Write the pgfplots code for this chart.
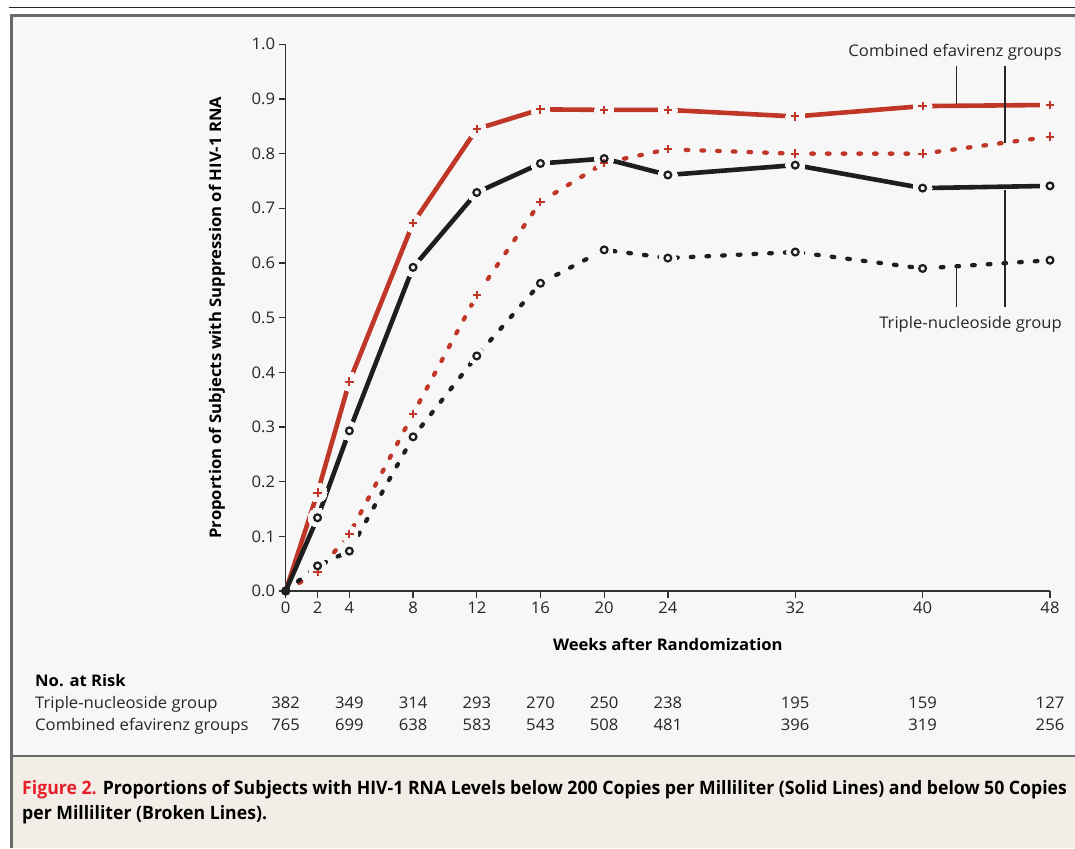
\documentclass[border=0pt]{standalone}
\usepackage{pgfplots}
\usepackage{pgfplotstable}
\pgfplotsset{compat=1.18}
\usepackage{fontspec}
\setmainfont[FakeStretch=1.04]{Open Sans}
\newfontfamily\capfont[FakeStretch=0.955]{Open Sans Bold}
\definecolor{effred}{RGB}{192,55,40}
\definecolor{trik}{RGB}{30,30,30}
\definecolor{figred}{RGB}{232,30,40}
\definecolor{bggray}{RGB}{247,247,247}
\definecolor{capbg}{RGB}{242,237,230}
\definecolor{bordergray}{RGB}{105,105,105}
\definecolor{axgray}{RGB}{50,50,50}

\pgfplotstableread{
w effA effB triA triB
0 0.000 0.000 0.000 0.000
2 0.180 0.035 0.134 0.046
4 0.383 0.104 0.293 0.073
8 0.673 0.324 0.592 0.282
12 0.845 0.541 0.729 0.430
16 0.881 0.712 0.782 0.563
20 0.880 0.783 0.791 0.624
24 0.880 0.808 0.761 0.609
32 0.868 0.800 0.779 0.620
40 0.887 0.800 0.737 0.590
48 0.889 0.831 0.741 0.605
}\datatable

\newcommand{\fs}{\fontsize{16}{19}\selectfont}

\begin{document}
\begin{tikzpicture}
\begin{scope}[x=1pt,y=-1pt]
\fill[white] (0,0) rectangle (1075,848);
\fill[bggray] (11,15) rectangle (1075,756);
\fill[capbg] (11,756) rectangle (1075,848);
\draw[line width=1.4pt, black!85] (9,7.3) -- (1075,7.3);
\draw[line width=2.6pt, bordergray] (1075,15.5) -- (11.5,15.5) -- (11.5,848);
\draw[line width=2.4pt, bordergray] (11.5,756) -- (1075,756);
\end{scope}

\begin{axis}[
  at={(285.7pt,-591pt)}, anchor=south west,
  scale only axis, width=764.3pt, height=546.7pt,
  xmin=0, xmax=48, ymin=0, ymax=1,
  axis lines*=left,
  axis line style={axgray, line width=1.3pt},
  every tick/.style={axgray, line width=1.3pt},
  tick align=outside, major tick length=7pt,
  xtick={0,2,4,8,12,16,20,24,32,40,48},
  ytick={0,0.1,...,1.0},
  yticklabel style={/pgf/number format/fixed, /pgf/number format/fixed zerofill, /pgf/number format/precision=1},
  /pgf/number format/assume math mode=true,
  tick label style={font=\fs, text=black!85},
  xticklabel style={yshift=-0.5pt},
  xlabel={\bfseries Weeks after Randomization},
  ylabel={\bfseries Proportion of Subjects with Suppression of HIV-1 RNA},
  every axis x label/.style={at={(axis description cs:0.5,0)}, anchor=center, yshift=-53pt, font=\fs},
  every axis y label/.style={at={(axis description cs:0,0.5)}, anchor=center, rotate=90, yshift=68.7pt, font=\fs},
  clip=false,
]
% --- lines ---
% combined efavirenz, <50 copies (broken)
\addplot[effred, line width=4.3pt, line cap=round, dash pattern=on 2.6pt off 13.1pt] table[x=w,y=effB] {\datatable};
% triple nucleoside, <50 copies (broken)
\addplot[trik, line width=4.3pt, line cap=round, dash pattern=on 2.6pt off 13.1pt] table[x=w,y=triB] {\datatable};
% combined efavirenz, <200 copies (solid)
\addplot[effred, line width=4.6pt, line cap=round] table[x=w,y=effA] {\datatable};
% triple nucleoside, <200 copies (solid)
\addplot[trik, line width=4.6pt, line cap=round] table[x=w,y=triA] {\datatable};
% --- gaps around the markers ---
\addplot[only marks, mark=*, mark size=8.5pt, mark options={draw=bggray, line width=0pt, fill=bggray}, skip coords between index={0}{1}] table[x=w,y=effB] {\datatable};
\addplot[only marks, mark=*, mark size=8.5pt, mark options={draw=bggray, line width=0pt, fill=bggray}, skip coords between index={0}{1}] table[x=w,y=triB] {\datatable};
\addplot[only marks, mark=*, mark size=9.5pt, mark options={draw=bggray, line width=0pt, fill=bggray}, skip coords between index={0}{1}] table[x=w,y=effA] {\datatable};
\addplot[only marks, mark=*, mark size=9.5pt, mark options={draw=bggray, line width=0pt, fill=bggray}, skip coords between index={0}{1}] table[x=w,y=triA] {\datatable};
% --- markers ---
\addplot[only marks, mark=+, mark size=4.2pt, mark options={effred, line width=2pt, solid}, skip coords between index={0}{1}] table[x=w,y=effB] {\datatable};
\addplot[only marks, mark=+, mark size=4.2pt, mark options={effred, line width=2pt, solid}, skip coords between index={0}{1}] table[x=w,y=effA] {\datatable};
\addplot[only marks, mark=o, mark size=3.4pt, mark options={trik, line width=2.2pt, solid}] table[x=w,y=triB] {\datatable};
\addplot[only marks, mark=o, mark size=3.4pt, mark options={trik, line width=2.2pt, solid}] table[x=w,y=triA] {\datatable};
\end{axis}

\begin{scope}[x=1pt,y=-1pt]
% annotations
\node[anchor=base east, font=\fs, text=black!85, inner sep=0pt] at (1062,57) {Combined efavirenz groups};
\node[anchor=base east, font=\fs, text=black!85, inner sep=0pt] at (1062,328) {Triple-nucleoside group};
\draw[line width=1.3pt, black!85] (956.7,65.7) -- (956.7,104);
\draw[line width=1.3pt, black!85] (1005,65.7) -- (1005,143.3);
\draw[line width=1.3pt, black!85] (1005,190) -- (1005,306.7);
\draw[line width=1.3pt, black!85] (956.7,266) -- (956.7,306.7);
% at-risk table
\node[anchor=base west, font=\fs\bfseries, inner sep=0pt] at (35,686) {No. at Risk};
\node[anchor=base west, font=\fs, text=black!85, inner sep=0pt] at (35,708) {Triple-nucleoside group};
\node[anchor=base west, font=\fs, text=black!85, inner sep=0pt] at (35,730) {Combined efavirenz groups};
\foreach \x/\a/\b in {285.7/382/765, 349.4/349/699, 413.1/314/638, 476.8/293/583, 540.5/270/543, 604.2/250/508, 667.9/238/481, 795.2/195/396, 922.6/159/319, 1050/127/256}{
  \node[anchor=base, font=\fs, text=black!85, inner sep=0pt] at (\x,708) {\a};
  \node[anchor=base, font=\fs, text=black!85, inner sep=0pt] at (\x,730) {\b};
}
% caption
\node[anchor=base west, inner sep=0pt, font=\fontsize{18.5}{22}\capfont] at (22,794) {\textcolor{figred}{Figure 2.} Proportions of Subjects with HIV-1 RNA Levels below 200 Copies per Milliliter (Solid Lines) and below 50 Copies};
\node[anchor=base west, inner sep=0pt, font=\fontsize{18.5}{22}\capfont] at (22,819) {per Milliliter (Broken Lines).};
\end{scope}
\pgfresetboundingbox
\useasboundingbox (0pt,0pt) rectangle (1075pt,-848pt);
\end{tikzpicture}
\end{document}
